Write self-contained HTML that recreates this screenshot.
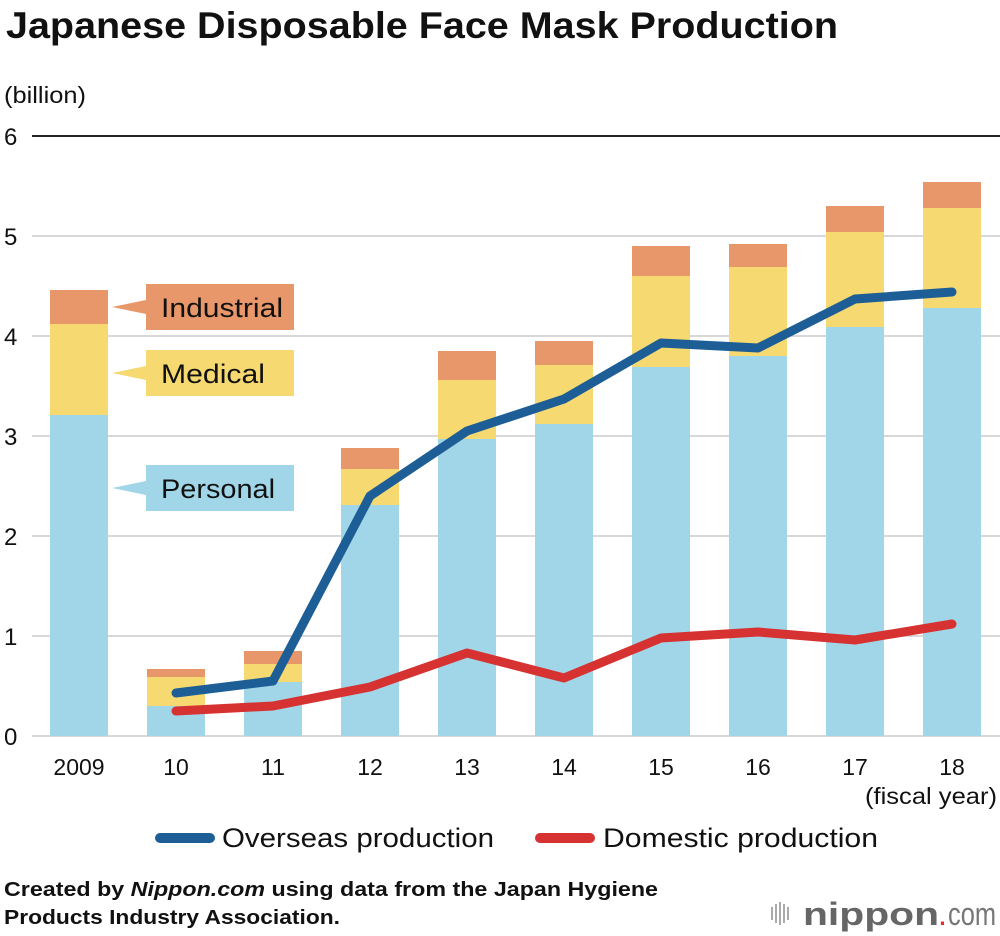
<!DOCTYPE html>
<html><head><meta charset="utf-8"><style>
body{margin:0;background:#fff;font-family:"Liberation Sans",Arial,sans-serif;}
svg{display:block}
</style></head><body>
<svg id="c" width="1000" height="936">
<text x="6" y="38" font-size="37" font-weight="bold" fill="#111" textLength="832" lengthAdjust="spacingAndGlyphs">Japanese Disposable Face Mask Production</text>
<text x="4" y="103" font-size="23" fill="#111" textLength="82" lengthAdjust="spacingAndGlyphs">(billion)</text>
<g id="grid"></g><g id="bars"></g><g id="lines"></g><g id="labels"></g>
<text x="865" y="804" font-size="23" fill="#111" textLength="132" lengthAdjust="spacingAndGlyphs">(fiscal year)</text>
<g>
<line x1="160" y1="838" x2="210" y2="838" stroke="#1d5e96" stroke-width="10" stroke-linecap="round"/>
<text x="222" y="847" font-size="27" fill="#111" textLength="272" lengthAdjust="spacingAndGlyphs">Overseas production</text>
<line x1="540" y1="838" x2="590" y2="838" stroke="#d63232" stroke-width="10" stroke-linecap="round"/>
<text x="603" y="847" font-size="27" fill="#111" textLength="275" lengthAdjust="spacingAndGlyphs">Domestic production</text>
</g>
<text x="4" y="896" font-size="20" font-weight="bold" fill="#111" textLength="654" lengthAdjust="spacingAndGlyphs">Created by <tspan font-style="italic">Nippon.com</tspan> using data from the Japan Hygiene</text>
<text x="4" y="924" font-size="20" font-weight="bold" fill="#111" textLength="336" lengthAdjust="spacingAndGlyphs">Products Industry Association.</text>
<g>
<g stroke="#aaa" stroke-width="2"><line x1="772" y1="907" x2="772" y2="920"/><line x1="776" y1="904" x2="776" y2="923"/><line x1="780" y1="902" x2="780" y2="925"/><line x1="784" y1="904" x2="784" y2="923"/><line x1="788" y1="907" x2="788" y2="920"/></g>
<text x="803" y="925" font-size="32" font-weight="bold" fill="#666" textLength="136" lengthAdjust="spacingAndGlyphs">nippon</text>
<text x="938" y="925" font-size="32" fill="#e8262b">.</text>
<text x="948" y="925" font-size="32" fill="#777" textLength="48" lengthAdjust="spacingAndGlyphs">com</text>
</g>
</svg>
<script>
const years=["2009","10","11","12","13","14","15","16","17","18"];
const personal=[3.21,0.30,0.54,2.31,2.97,3.12,3.69,3.80,4.09,4.28];
const medical=[0.91,0.29,0.18,0.36,0.59,0.59,0.91,0.89,0.95,1.00];
const industrial=[0.34,0.08,0.13,0.21,0.29,0.24,0.30,0.23,0.26,0.26];
const overseasYears=["10","11","12","13","14","15","16","17","18"];
const overseas=[0.43,0.55,2.40,3.05,3.37,3.93,3.88,4.37,4.44];
const domestic=[0.25,0.30,0.49,0.83,0.58,0.98,1.04,0.96,1.12];
const yTicks=[0,1,2,3,4,5,6];
const NS="http://www.w3.org/2000/svg";
const y=v=>736-v*100;
const xc=i=>79+i*97;
const xOf=yr=>xc(years.indexOf(yr));
function mk(tag,attrs,parent){const e=document.createElementNS(NS,tag);for(const k in attrs)e.setAttribute(k,attrs[k]);document.getElementById(parent).appendChild(e);return e;}
yTicks.forEach(t=>{
  const l=mk('line',{x1:32,x2:1000,y1:y(t),y2:y(t),stroke:t===6?'#222':'#ccc','stroke-width':t===6?2:1.5},'grid');
  
  
  const tx=mk('text',{x:4,y:y(t)+9,'font-size':24,fill:'#111'},'grid');tx.textContent=t;
  
  
});
years.forEach((yr,i)=>{
  let base=0;
  [[personal,'#a1d6e8','personal'],[medical,'#f6d970','medical'],[industrial,'#e8976a','industrial']].forEach(([arr,col,nm])=>{
    const v=arr[i];
    const r=mk('rect',{x:xc(i)-29,width:58,y:y(base+v),height:v*100,fill:col},'bars');
    
    
    base+=v;
  });
  const t=mk('text',{x:xc(i),y:775,'font-size':23,'text-anchor':'middle',fill:'#111'},'labels');t.textContent=yr;
  
  
});
function line(arr,col,nm){
  const p=mk('polyline',{points:arr.map((v,i)=>xOf(overseasYears[i])+','+y(v)).join(' '),fill:'none',stroke:col,'stroke-width':9,'stroke-linecap':'round','stroke-linejoin':'round'},'lines');
  
  
}
line(domestic,'#d63232','domestic-line');
line(overseas,'#1d5e96','overseas-line');
[['Industrial','#e8976a',284,'industrial',122],['Medical','#f6d970',350,'medical',104],['Personal','#a1d6e8',465,'personal',114]].forEach(([txt,col,top,nm,w])=>{
  const g=mk('polygon',{points:`112,${top+23} 146,${top+16} 146,${top+30}`,fill:col},'labels');
  
  
  const r=mk('rect',{x:146,y:top,width:148,height:46,fill:col},'labels');
  
  
  const t=mk('text',{x:161,y:top+33,'font-size':27,fill:'#111',textLength:w,lengthAdjust:'spacingAndGlyphs'},'labels');t.textContent=txt;
  
  
});
</script>
</body></html>
